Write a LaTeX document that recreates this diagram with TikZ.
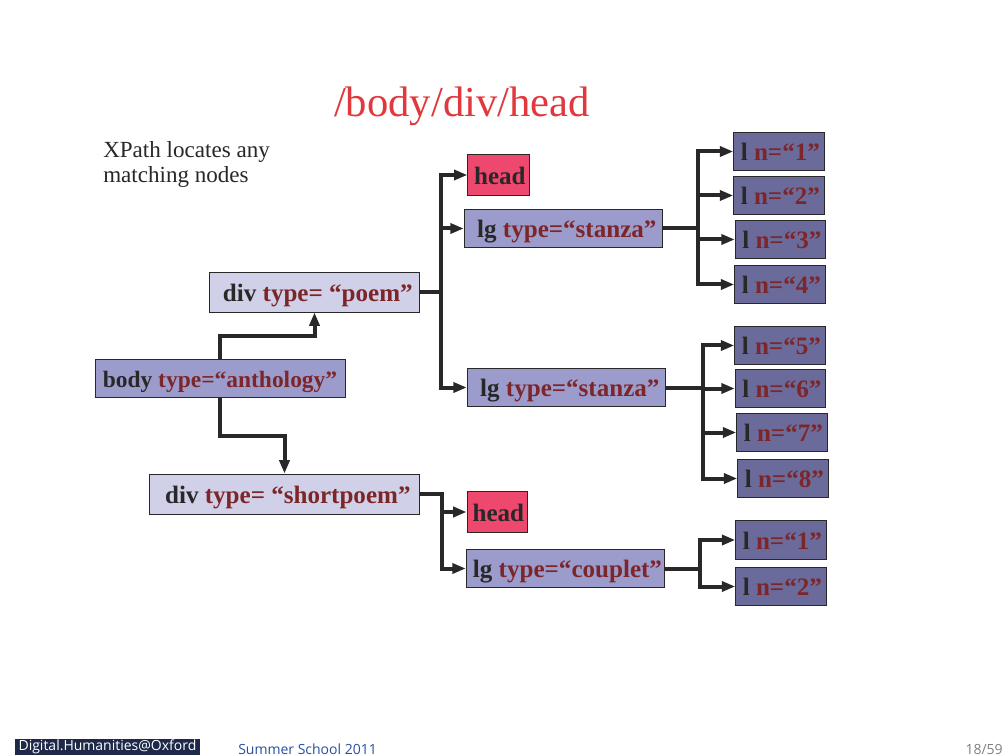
\documentclass[tikz,border=0pt]{standalone}
\usepackage{fontspec}
\setmainfont{Liberation Serif}
\newfontfamily\footfont{Open Sans}
\usetikzlibrary{arrows.meta}
\definecolor{headpink}{RGB}{238,72,110}
\definecolor{lgblue}{RGB}{156,156,204}
\definecolor{lblue}{RGB}{107,107,155}
\definecolor{divblue}{RGB}{208,208,232}
\definecolor{attrred}{RGB}{125,38,42}
\definecolor{linkgray}{RGB}{40,40,40}
\definecolor{titlered}{RGB}{224,56,60}
\definecolor{footnavy}{RGB}{30,40,72}
\definecolor{footblue}{RGB}{40,80,160}
\newcommand{\attr}[1]{\textcolor{attrred}{#1}}
\begin{document}
\begin{tikzpicture}[x=0.75pt,y=-0.75pt,
    tree/.style={draw=linkgray,line width=0.7pt,inner sep=0pt,text=linkgray,
      text height=14pt,text depth=0pt,font=\fontsize{18.8}{20}\selectfont\bfseries},
    headbox/.style={tree,fill=headpink,minimum width=46pt,minimum height=30.5pt},
    lgbox/.style={tree,fill=lgblue,minimum width=149pt,minimum height=29pt},
    lbox/.style={tree,fill=lblue,minimum width=68pt,minimum height=29pt},
    divbox/.style={tree,fill=divblue,minimum height=30pt},
    link/.style={draw=linkgray,line width=3pt,-{Triangle[length=10pt,width=7.5pt]}}]
  \useasboundingbox[fill=white] (0,0) rectangle (1008,756);% page
  \node[text=titlered,font=\fontsize{32}{36}\selectfont,anchor=base] (title) at (462,117) {/body/div/head};
  \node[text=linkgray,font=\fontsize{17.3}{19}\selectfont,anchor=base west,inner sep=0pt] (note1) at (103,158) {XPath locates any};
  \node[text=linkgray,font=\fontsize{17.3}{19}\selectfont,anchor=base west,inner sep=0pt] (note2) at (103,183) {matching nodes};

  % the tree
  \node[lgbox,minimum width=187.5pt,font=\fontsize{17.6}{20}\selectfont\bfseries] (body) at (220,378.5) {body \attr{type=“anthology”}};
  \node[divbox,minimum width=158pt] (poem) at (314.5,292) {\hspace*{5pt}div \attr{type= “poem”}};
  \node[divbox,minimum width=202pt] (short) at (284.5,494) {\hspace*{5pt}div \attr{type= “shortpoem”}};
  \node[headbox] (head1) at (498.5,175) {\hspace*{2pt}head};
  \node[lgbox] (stanza1) at (563.5,228.5) {\hspace*{5pt}lg \attr{type=“stanza”}};
  \node[lgbox] (stanza2) at (566.5,387.5) {\hspace*{5pt}lg \attr{type=“stanza”}};
  \node[headbox,minimum width=45pt] (head2) at (497,512) {\hspace*{2pt}head};
  \node[lgbox] (couplet) at (565.5,568.5) {\hspace*{3pt}lg \attr{type=“couplet”}};
  \foreach \n/\x/\y in {1/779/151.5,2/779/195.5,3/780.5/239.5,4/780/284.5,
                        5/780/345.5,6/780.5/388.5,7/782/432.5,8/783/478.5}{%
    \node[lbox] (l\n) at (\x,\y) {\hspace*{2pt}l \attr{n=“\n”}};
  }
  \node[lbox] (c1) at (781,540) {\hspace*{2pt}l \attr{n=“1”}};
  \node[lbox] (c2) at (781,586.5) {\hspace*{2pt}l \attr{n=“2”}};

  \draw[link] (body.north) -- ++(0,-23) -| (poem.south);
  \draw[link] (body.south) -- ++(0,38) -| (short.north);
  \draw[link] (poem.east) -- ++(21,0) coordinate (jpoem) |- (head1.west);
  \draw[link] (jpoem) |- (stanza1.west);
  \draw[link] (jpoem) |- (stanza2.west);
  \draw[link] (short.east) -- ++(22,0) coordinate (jshort) |- (head2.west);
  \draw[link] (jshort) |- (couplet.west);
  \draw[line width=3pt,linkgray] (stanza1.east) -- ++(35,0) coordinate (js1);
  \draw[line width=3pt,linkgray] (stanza2.east) -- ++(37,0) coordinate (js2);
  \draw[line width=3pt,linkgray] (couplet.east) -- ++(35,0) coordinate (jc);
  \foreach \n in {1,...,4}{\draw[link] (js1) |- (l\n.west);}
  \foreach \n in {5,...,8}{\draw[link] (js2) |- (l\n.west);}
  \foreach \n in {1,2}{\draw[link] (jc) |- (c\n.west);}

  % footer
  \node[fill=footnavy,text=white,font=\footfont\fontsize{10.5}{12}\selectfont,minimum width=138.75pt,
        minimum height=12pt,inner sep=0pt] (brand) at (107.5,747) {Digital.Humanities@Oxford};
  \node[text=footblue,font=\footfont\fontsize{10.5}{12}\selectfont,anchor=base west,inner sep=0pt] (event) at (238,754) {Summer School 2011};
  \node[text=gray,font=\footfont\fontsize{10.5}{12}\selectfont,anchor=base east,inner sep=0pt] (page) at (1003,754) {18/59};
\end{tikzpicture}
\end{document}
